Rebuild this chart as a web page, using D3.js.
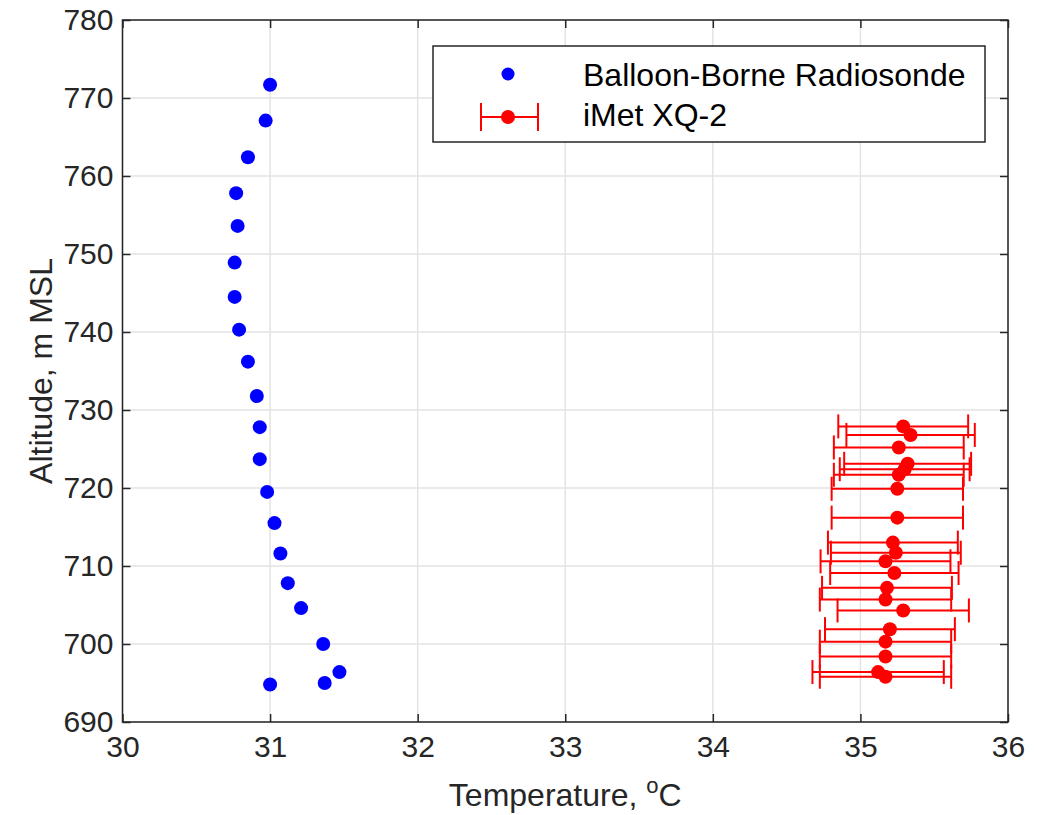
<!DOCTYPE html>
<html>
<head>
<meta charset="utf-8">
<script src="https://cdn.jsdelivr.net/npm/d3@7"></script>
<style>
  body { margin: 0; background: #fff; }
  svg { font-family: "Liberation Sans", Arial, Helvetica, sans-serif; }
</style>
</head>
<body>
<svg id="chart" width="1051" height="815"></svg>
<script>
// Balloon-borne radiosonde profile
const sondeTemp = [31.00, 30.97, 30.85, 30.77, 30.78, 30.76, 30.76, 30.79, 30.85, 30.91, 30.93,
                   30.93, 30.98, 31.03, 31.07, 31.12, 31.21, 31.36, 31.47, 31.37, 31.00];
const sondeAlt = [771.7, 767.1, 762.4, 757.8, 753.6, 748.9, 744.5, 740.3, 736.2, 731.8, 727.8,
                  723.7, 719.5, 715.5, 711.6, 707.8, 704.6, 700.0, 696.4, 695.0, 694.8];

// iMet XQ-2 with horizontal error bars
const imetTemp = [35.29, 35.34, 35.26, 35.32, 35.30, 35.26, 35.25, 35.25, 35.22, 35.24,
                  35.17, 35.23, 35.18, 35.17, 35.29, 35.20, 35.17, 35.17, 35.12, 35.17];
const imetAlt = [727.9, 726.8, 725.2, 723.1, 722.4, 721.7, 719.9, 716.2, 713.0, 711.7,
                 710.6, 709.1, 707.2, 705.7, 704.3, 701.9, 700.3, 698.4, 696.4, 695.8];
const imetErr = [0.44, 0.435, 0.44, 0.43, 0.44, 0.44, 0.445, 0.445, 0.44, 0.44,
                 0.44, 0.435, 0.44, 0.445, 0.445, 0.44, 0.445, 0.445, 0.445, 0.445];

const xTicks = [30, 31, 32, 33, 34, 35, 36];
const yTicks = [690, 700, 710, 720, 730, 740, 750, 760, 770, 780];

const legendLabels = ['Balloon-Borne Radiosonde', 'iMet XQ-2'];

const axisColor = '#262626';
const gridColor = '#e3e3e3';

const svg = d3.select('#chart');
const plot = { left: 122.5, right: 1008, top: 20, bottom: 722 };

const x = d3.scaleLinear().domain([30, 36]).range([plot.left, plot.right]);
const y = d3.scaleLinear().domain([690, 780]).range([plot.bottom, plot.top]);

// grid
const grid = svg.append('g');
grid.selectAll('.vgrid').data(xTicks).enter().append('line')
    .attr('x1', d => x(d)).attr('x2', d => x(d))
    .attr('y1', plot.top).attr('y2', plot.bottom)
    .attr('stroke', gridColor).attr('stroke-width', 1.5);
grid.selectAll('.hgrid').data(yTicks).enter().append('line')
    .attr('y1', d => y(d)).attr('y2', d => y(d))
    .attr('x1', plot.left).attr('x2', plot.right)
    .attr('stroke', gridColor).attr('stroke-width', 1.5);

// axes (ticks inward, box on)
function styleAxis(g) {
    g.select('.domain').remove();
    g.selectAll('.tick line').attr('stroke', axisColor).attr('stroke-width', 1.5);
    g.selectAll('.tick text').attr('fill', axisColor).attr('font-size', 30)
        .attr('font-family', '"Liberation Sans", Arial, sans-serif');
}

svg.append('g').attr('transform', `translate(0,${plot.bottom})`)
    .call(d3.axisBottom(x).tickValues(xTicks).tickSizeInner(-8).tickFormat(d3.format('d')))
    .call(styleAxis)
    .selectAll('.tick text').attr('dy', '0.71em').attr('y', 14);

svg.append('g').attr('transform', `translate(${plot.left},0)`)
    .call(d3.axisLeft(y).tickValues(yTicks).tickSizeInner(-8).tickFormat(d3.format('d')))
    .call(styleAxis)
    .selectAll('.tick text').attr('x', -9);

svg.append('g').attr('transform', `translate(0,${plot.top})`)
    .call(d3.axisTop(x).tickValues(xTicks).tickSizeInner(-8).tickFormat(''))
    .call(styleAxis);

svg.append('g').attr('transform', `translate(${plot.right},0)`)
    .call(d3.axisRight(y).tickValues(yTicks).tickSizeInner(-8).tickFormat(''))
    .call(styleAxis);

svg.append('rect')
    .attr('x', plot.left).attr('y', plot.top)
    .attr('width', plot.right - plot.left).attr('height', plot.bottom - plot.top)
    .attr('fill', 'none').attr('stroke', axisColor).attr('stroke-width', 1.5);

// radiosonde points
const sonde = sondeTemp.map((t, i) => ({ t, a: sondeAlt[i] }));
svg.append('g').selectAll('circle').data(sonde).enter().append('circle')
    .attr('cx', d => x(d.t)).attr('cy', d => y(d.a)).attr('r', 7)
    .attr('fill', '#0000ff');

// iMet error bars then markers
const imet = imetTemp.map((t, i) => ({ t, a: imetAlt[i], e: imetErr[i] }));
const capHalf = 12;
const eb = svg.append('g').attr('stroke', '#ff0000').attr('stroke-width', 2).attr('fill', 'none');
imet.forEach(d => {
    const cy = y(d.a), x0 = x(d.t - d.e), x1 = x(d.t + d.e);
    eb.append('line').attr('x1', x0).attr('x2', x1).attr('y1', cy).attr('y2', cy);
    eb.append('line').attr('x1', x0).attr('x2', x0).attr('y1', cy - capHalf).attr('y2', cy + capHalf);
    eb.append('line').attr('x1', x1).attr('x2', x1).attr('y1', cy - capHalf).attr('y2', cy + capHalf);
});
svg.append('g').selectAll('circle').data(imet).enter().append('circle')
    .attr('cx', d => x(d.t)).attr('cy', d => y(d.a)).attr('r', 7)
    .attr('fill', '#ff0000');

// axis labels
svg.append('text')
    .attr('x', (plot.left + plot.right) / 2).attr('y', 806)
    .attr('text-anchor', 'middle').attr('font-size', 32).attr('fill', axisColor)
    .call(t => {
        t.append('tspan').text('Temperature, ');
        t.append('tspan').attr('font-size', 22).attr('dy', -13).text('o');
        t.append('tspan').attr('dy', 13).text('C');
    });

svg.append('text')
    .attr('transform', `translate(52,${(plot.top + plot.bottom) / 2}) rotate(-90)`)
    .attr('text-anchor', 'middle').attr('font-size', 32).attr('fill', axisColor)
    .text('Altitude, m MSL');

// legend
const lg = svg.append('g');
lg.append('rect')
    .attr('x', 433).attr('y', 46).attr('width', 552).attr('height', 96)
    .attr('fill', '#fff').attr('stroke', axisColor).attr('stroke-width', 1.5);
lg.append('circle').attr('cx', 508).attr('cy', 74).attr('r', 6.5).attr('fill', '#0000ff');
const ly = 117;
lg.append('line').attr('x1', 481).attr('x2', 538).attr('y1', ly).attr('y2', ly)
    .attr('stroke', '#ff0000').attr('stroke-width', 2);
[481, 538].forEach(cx => lg.append('line')
    .attr('x1', cx).attr('x2', cx).attr('y1', ly - 14).attr('y2', ly + 14)
    .attr('stroke', '#ff0000').attr('stroke-width', 2));
lg.append('circle').attr('cx', 508).attr('cy', ly).attr('r', 7).attr('fill', '#ff0000');
lg.selectAll('.ltext').data(legendLabels).enter().append('text')
    .attr('x', 583).attr('y', (d, i) => 85.5 + i * 40)
    .attr('font-size', 32).attr('fill', '#000')
    .text(d => d);
</script>
</body>
</html>
